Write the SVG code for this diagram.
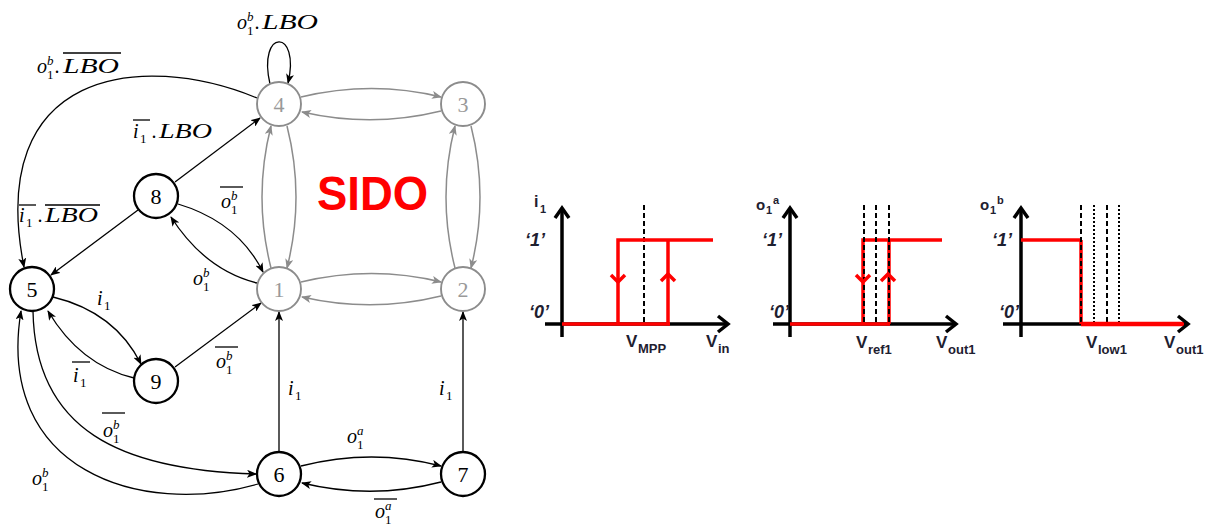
<svg xmlns="http://www.w3.org/2000/svg" width="1211" height="526" viewBox="0 0 1211 526">
<style>
.nb{fill:#fff;stroke:#000;stroke-width:2.3}
.ng{fill:#fff;stroke:#8c8c8c;stroke-width:1.9}
.tb{font-family:"Liberation Serif",serif;font-size:22px;fill:#000;text-anchor:middle}
.tg{font-family:"Liberation Serif",serif;font-size:22px;fill:#999;text-anchor:middle}
.eb{fill:none;stroke:#000;stroke-width:1.3;marker-end:url(#ab)}
.eg{fill:none;stroke:#8c8c8c;stroke-width:1.5;marker-end:url(#ag)}
.m{font-family:"Liberation Serif",serif;font-style:italic;font-size:20px;fill:#000}
.L{font-family:"Liberation Serif",serif;font-style:italic;font-size:21px;fill:#000}
.su{font-family:"Liberation Serif",serif;font-style:italic;font-size:13px;fill:#000}
.sb{font-family:"Liberation Serif",serif;font-size:13px;fill:#000}
.bar{stroke:#000;stroke-width:1.3}
.ax{fill:none;stroke:#000;stroke-width:3.5}
.rd{fill:none;stroke:#ff0000;stroke-width:3.5}
.dsh{stroke:#000;stroke-width:2;stroke-dasharray:5 3}
.dot{stroke:#000;stroke-width:2;stroke-dasharray:2 2}
.cl{font-family:"Liberation Sans",Arial,sans-serif;font-weight:bold;fill:#1e2030}
.ci{font-family:"Liberation Sans",Arial,sans-serif;font-weight:bold;font-style:italic;font-size:18px;fill:#1e2030}
</style>
<defs>
<marker id="ab" viewBox="0 0 10 8" refX="9" refY="4" markerWidth="10" markerHeight="8" markerUnits="userSpaceOnUse" orient="auto">
<path d="M0,0 L10,4 L0,8 L2.5,4 z" fill="#000"/>
</marker>
<marker id="ag" viewBox="0 0 10 8" refX="9" refY="4" markerWidth="10" markerHeight="8" markerUnits="userSpaceOnUse" orient="auto">
<path d="M0,0 L10,4 L0,8 L2.5,4 z" fill="#8c8c8c"/>
</marker>
</defs>
<rect width="1211" height="526" fill="#fff"/>

<g id="connectors">
<path class="eg" d="M301,97 Q372,80 441,97"/>
<path class="eg" d="M441,111 Q372,128 302,112"/>
<path class="eg" d="M271,268 Q253,197 271,126"/>
<path class="eg" d="M287,126 Q305,197 287,268"/>
<path class="eg" d="M455,268 Q437,197 455,126"/>
<path class="eg" d="M471,126 Q489,197 471,268"/>
<path class="eg" d="M301,282 Q372,265 441,282"/>
<path class="eg" d="M441,296 Q372,313 302,297"/>
<path class="eb" d="M270,84 C257,28 301,28 288,83"/>
<path class="eb" d="M257,98 C140,50 -15,70 24,267"/>
<path class="eb" d="M175,182 L260,118"/>
<path class="eb" d="M138,210 L51,275"/>
<path class="eb" d="M178,204 Q238,222 263,272"/>
<path class="eb" d="M257,283 Q205,270 171,217"/>
<path class="eb" d="M53,297 Q115,312 141,364"/>
<path class="eb" d="M134,378 Q80,365 48,311"/>
<path class="eb" d="M175,367 L261,303"/>
<path class="eb" d="M279,451 L279,312"/>
<path class="eb" d="M463,451 L463,312"/>
<path class="eb" d="M301,466 Q372,448 441,466"/>
<path class="eb" d="M441,482 Q372,500 302,483"/>
<path class="eb" d="M33,311 C35,430 120,470 256,474"/>
<path class="eb" d="M258,484 C140,518 -5,470 21,311"/>
</g>

<g id="node1"><circle class="ng" cx="279" cy="289" r="22"/><text class="tg" x="279" y="297">1</text></g>
<g id="node2"><circle class="ng" cx="463" cy="289" r="22"/><text class="tg" x="463" y="297">2</text></g>
<g id="node3"><circle class="ng" cx="463" cy="104" r="22"/><text class="tg" x="463" y="112">3</text></g>
<g id="node4"><circle class="ng" cx="279" cy="104" r="22"/><text class="tg" x="279" y="112">4</text></g>
<g id="node5"><circle class="nb" cx="32" cy="289" r="22"/><text class="tb" x="32" y="297">5</text></g>
<g id="node6"><circle class="nb" cx="279" cy="474" r="22"/><text class="tb" x="279" y="482">6</text></g>
<g id="node7"><circle class="nb" cx="463" cy="474" r="22"/><text class="tb" x="463" y="482">7</text></g>
<g id="node8"><circle class="nb" cx="156" cy="196" r="22"/><text class="tb" x="156" y="204">8</text></g>
<g id="node9"><circle class="nb" cx="156" cy="381" r="22"/><text class="tb" x="156" y="389">9</text></g>

<g id="labels">
<text class="m" x="237" y="29">o</text><text class="su" x="247" y="21">b</text><text class="sb" x="247" y="35">1</text>
<text class="m" x="255" y="29">.</text><text class="L" x="262" y="29" textLength="56" lengthAdjust="spacingAndGlyphs">LBO</text>
<text class="m" x="37" y="73">o</text><text class="su" x="47" y="65">b</text><text class="sb" x="47" y="79">1</text>
<text class="m" x="55" y="73">.</text><text class="L" x="63" y="73" textLength="56" lengthAdjust="spacingAndGlyphs">LBO</text>
<line class="bar" x1="63" y1="53" x2="121" y2="53"/>
<text class="m" x="133" y="138">i</text><text class="sb" x="140" y="143">1</text>
<line class="bar" x1="133" y1="120" x2="150" y2="120"/>
<text class="m" x="152" y="138">.</text><text class="L" x="159" y="138" textLength="53" lengthAdjust="spacingAndGlyphs">LBO</text>
<text class="m" x="19" y="222">i</text><text class="sb" x="26" y="227">1</text>
<line class="bar" x1="19" y1="205" x2="36" y2="205"/>
<text class="m" x="38" y="222">.</text><text class="L" x="45" y="222" textLength="53" lengthAdjust="spacingAndGlyphs">LBO</text>
<line class="bar" x1="45" y1="205" x2="100" y2="205"/>
<text class="m" x="221" y="208">o</text><text class="su" x="231" y="200">b</text><text class="sb" x="231" y="214">1</text>
<line class="bar" x1="220" y1="187" x2="243" y2="187"/>
<text class="m" x="193" y="285">o</text><text class="su" x="203" y="277">b</text><text class="sb" x="203" y="291">1</text>
<text class="m" x="97" y="305">i</text><text class="sb" x="104" y="310">1</text>
<text class="m" x="73" y="382">i</text><text class="sb" x="80" y="387">1</text>
<line class="bar" x1="72" y1="362" x2="90" y2="362" stroke-width="1"/>
<text class="m" x="216" y="368">o</text><text class="su" x="226" y="360">b</text><text class="sb" x="226" y="374">1</text>
<line class="bar" x1="215" y1="347" x2="238" y2="347"/>
<text class="m" x="288" y="395">i</text><text class="sb" x="295" y="400">1</text>
<text class="m" x="439" y="395">i</text><text class="sb" x="446" y="400">1</text>
<text class="m" x="103" y="437">o</text><text class="su" x="113" y="429">b</text><text class="sb" x="113" y="443">1</text>
<line class="bar" x1="102" y1="413" x2="125" y2="413"/>
<text class="m" x="32" y="485">o</text><text class="su" x="42" y="477">b</text><text class="sb" x="42" y="491">1</text>
<text class="m" x="347" y="443">o</text><text class="su" x="357" y="435">a</text><text class="sb" x="357" y="449">1</text>
<text class="m" x="375" y="518">o</text><text class="su" x="385" y="510">a</text><text class="sb" x="385" y="524">1</text>
<line class="bar" x1="374" y1="499" x2="397" y2="499"/>
</g>

<text x="317" y="210" font-family="Liberation Sans,Arial,sans-serif" font-weight="bold" font-size="48" fill="#ff0000" textLength="111" lengthAdjust="spacingAndGlyphs">SIDO</text>

<g id="chart1">
<line class="dsh" x1="644" y1="205" x2="644" y2="324"/>
<line class="ax" x1="562" y1="337" x2="562" y2="209"/>
<polyline class="ax" points="555,218 562,208 569,218"/>
<line class="ax" x1="545" y1="324" x2="727" y2="324"/>
<polyline class="ax" points="718,316 728,324 718,332"/>
<polyline class="rd" points="562,324 670,324"/>
<polyline class="rd" points="618,324 618,240 713,240"/>
<line class="rd" x1="668" y1="324" x2="668" y2="240"/>
<polyline class="rd" points="611,275 618,282 625,275"/>
<polyline class="rd" points="661,281 668,274 675,281"/>
<text class="cl" x="534" y="207" font-size="16">i</text><text class="cl" x="540" y="213" font-size="11">1</text>
<text class="ci" x="525" y="246">‘1’</text>
<text class="ci" x="529" y="318">‘0’</text>
<text class="cl" x="626" y="347" font-size="17">V</text><text class="cl" x="638" y="353" font-size="13">MPP</text>
<text class="cl" x="706" y="347" font-size="17">V</text><text class="cl" x="718" y="353" font-size="13">in</text>
</g>

<g id="chart2">
<line class="ax" x1="790" y1="337" x2="790" y2="209"/>
<polyline class="ax" points="783,218 790,208 797,218"/>
<line class="ax" x1="773" y1="324" x2="955" y2="324"/>
<polyline class="ax" points="946,316 956,324 946,332"/>
<polyline class="rd" points="790,324 890,324"/>
<polyline class="rd" points="863,324 863,240 942,240"/>
<line class="rd" x1="889" y1="324" x2="889" y2="240"/>
<line class="dsh" x1="864" y1="205" x2="864" y2="324"/>
<line class="dsh" x1="876" y1="205" x2="876" y2="324"/>
<line class="dsh" x1="889" y1="205" x2="889" y2="324"/>
<polyline class="rd" points="856,275 863,282 870,275"/>
<polyline class="rd" points="881,281 888,274 895,281"/>
<text class="cl" x="756" y="210" font-size="15">o</text><text class="cl" x="766" y="214" font-size="11">1</text><text class="cl" x="773" y="204" font-size="11">a</text>
<text class="ci" x="762" y="246">‘1’</text>
<text class="ci" x="769" y="318">‘0’</text>
<text class="cl" x="856" y="348" font-size="17">V</text><text class="cl" x="868" y="354" font-size="13">ref1</text>
<text class="cl" x="936" y="348" font-size="17">V</text><text class="cl" x="948" y="354" font-size="13">out1</text>
</g>

<g id="chart3">
<line class="ax" x1="1021" y1="337" x2="1021" y2="209"/>
<polyline class="ax" points="1014,218 1021,208 1028,218"/>
<line class="ax" x1="1003" y1="324" x2="1187" y2="324"/>
<polyline class="rd" points="1021,240 1081,240"/>
<line class="rd" x1="1081" y1="240" x2="1081" y2="324"/>
<line class="dsh" x1="1081" y1="205" x2="1081" y2="324"/>
<line class="dot" x1="1094" y1="205" x2="1094" y2="324"/>
<line class="dsh" x1="1107" y1="205" x2="1107" y2="324"/>
<line class="dot" x1="1119" y1="205" x2="1119" y2="324"/>
<line x1="1081" y1="324" x2="1184" y2="324" stroke="#ff0000" stroke-width="4.5"/>
<polyline class="ax" points="1178,316 1188,324 1178,332"/>
<text class="cl" x="980" y="210" font-size="15">o</text><text class="cl" x="990" y="214" font-size="11">1</text><text class="cl" x="997" y="204" font-size="11">b</text>
<text class="ci" x="992" y="246">‘1’</text>
<text class="ci" x="999" y="318">‘0’</text>
<text class="cl" x="1086" y="348" font-size="17">V</text><text class="cl" x="1098" y="354" font-size="13">low1</text>
<text class="cl" x="1164" y="348" font-size="17">V</text><text class="cl" x="1176" y="354" font-size="13">out1</text>
</g>
</svg>
